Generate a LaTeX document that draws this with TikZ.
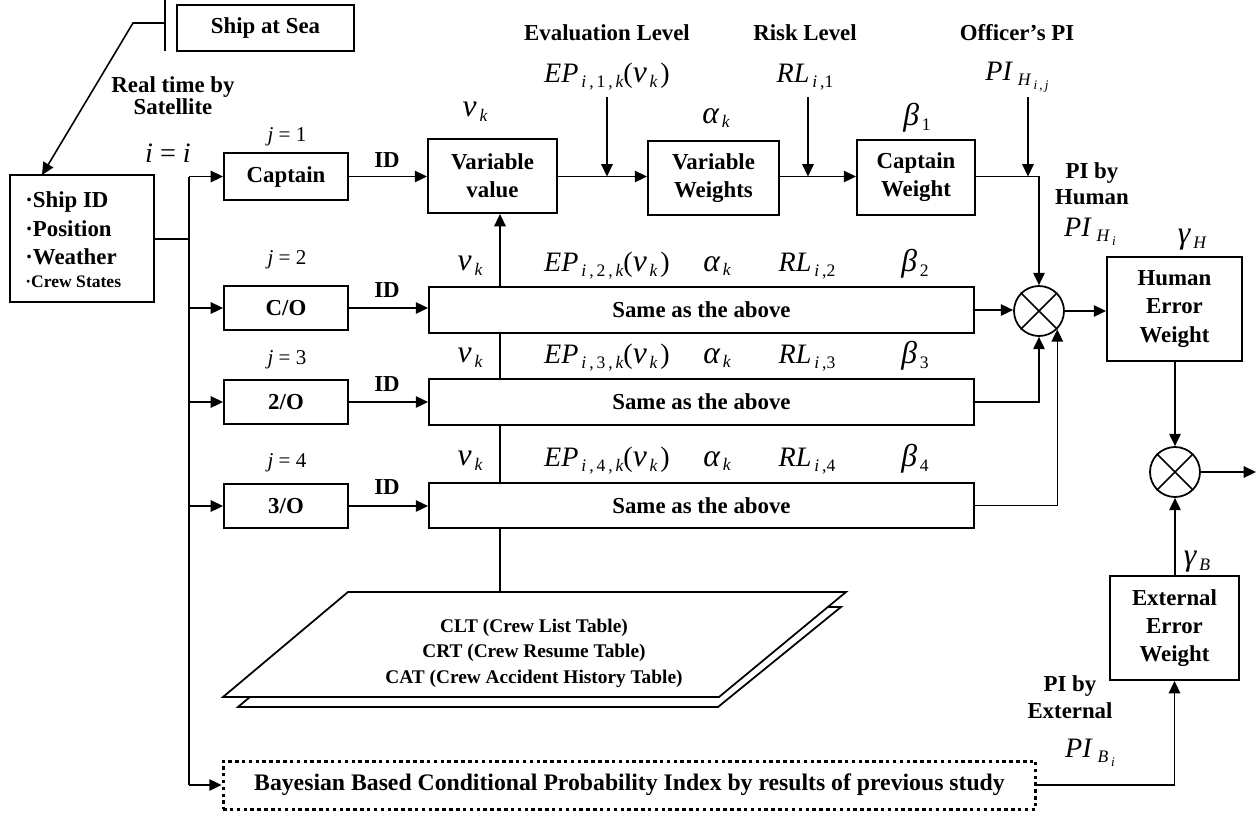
\documentclass[tikz,border=0pt]{standalone}
\usepackage{fontspec}
\setmainfont{Liberation Serif}
\usetikzlibrary{arrows.meta,calc}
\newcommand{\mi}[1]{{\fontsize{16}{18}\selectfont\itshape #1}}
\newcommand{\gk}[1]{{\fontsize{18}{20}\selectfont\itshape #1}}
\newcommand{\sbx}[1]{\raisebox{-0.6ex}{\fontsize{10}{11}\selectfont #1}}
\newcommand{\ssbx}[1]{\raisebox{-0.5ex}{\fontsize{7.5}{8}\selectfont #1}}
\newcommand{\EPlab}[1]{\mi{EP}\,\sbx{\itshape i\upshape\,,\,#1\,,\,\itshape k}\mi{\upshape(}\gk{ν}\,\sbx{\itshape k}\,\mi{\upshape)}}
\newcommand{\RLlab}[1]{\mi{RL}\,\sbx{\itshape i\upshape\,,#1}}
\newcommand{\vk}{\gk{ν}\,\sbx{\itshape k}}
\newcommand{\ak}{\gk{α}\,\sbx{\itshape k}}
\newcommand{\bt}[1]{\gk{β}\,\sbx{#1}}
\begin{document}
\begin{tikzpicture}[x=0.02cm,y=-0.02cm,
  box/.style={draw, line width=1.1pt, fill=white, align=center, inner sep=0pt,
    font=\bfseries\fontsize{13}{16}\selectfont},
  lbl/.style={align=center, inner sep=0pt, font=\bfseries\fontsize{13}{16}\selectfont},
  mth/.style={inner sep=0pt},
  ln/.style={line width=0.9pt},
  conn/.style={line width=0.9pt, -{Triangle[length=7pt,width=6.5pt]}},
  jl/.style={inner sep=0pt, font=\fontsize{12}{14}\selectfont},
  xcirc/.style={draw, circle, line width=1pt, minimum size=1cm, inner sep=0pt, fill=white}
]
\useasboundingbox (0,0) rectangle (1259,816);

% ---- ship at sea and satellite link
\node[box, minimum width=3.54cm, minimum height=0.92cm] (ship) at (265.5,28) {Ship at Sea};
\draw[ln] (165,0) -- (165,51);
\coordinate (tk) at (165,23);
\coordinate (bend) at (133,23);
\coordinate (infotop) at (42,175);
\node[lbl, font=\bfseries\fontsize{13}{12.5}\selectfont] (rt) at (173,96) {Real time by\\Satellite};

% ---- info box
\node[box, minimum width=2.88cm, minimum height=2.54cm] (info) at (82,238.5) {};
\node[lbl, anchor=base west] (l1) at (25,207) {·Ship ID};
\node[lbl, anchor=base west] (l2) at (25,236) {·Position};
\node[lbl, anchor=base west] (l3) at (25,264) {·Weather};
\node[lbl, anchor=base west, font=\bfseries\fontsize{10}{12}\selectfont] (l4) at (25,287) {·Crew States};
\draw[conn] (tk) -- (bend) -- (infotop);

% ---- crew boxes
\coordinate (bus) at (189,239);
\node[mth] (ieq) at (168,153) {\mi{i \upshape= \itshape i}};
\node[box, minimum width=2.48cm, minimum height=0.94cm] (cap) at (286,176.5) {Captain};
\node[box, minimum width=2.48cm, minimum height=0.88cm] (co) at (286,308) {C/O};
\node[box, minimum width=2.48cm, minimum height=0.88cm] (so) at (286,402) {2/O};
\node[box, minimum width=2.48cm, minimum height=0.88cm] (to) at (286,506) {3/O};
\node[jl] (j1) at (287,137) {\itshape j \upshape= 1};
\node[jl] (j2) at (287,260) {\itshape j \upshape= 2};
\node[jl] (j3) at (287,360) {\itshape j \upshape= 3};
\node[jl] (j4) at (287,463) {\itshape j \upshape= 4};

% ---- main chain
\node[box, minimum width=2.58cm, minimum height=1.48cm] (vv) at (492.5,176) {Variable\\value};
\node[box, minimum width=2.62cm, minimum height=1.48cm] (vw) at (713.5,178) {Variable\\Weights};
\node[box, minimum width=2.36cm, minimum height=1.5cm] (cw) at (916,177.5) {Captain\\Weight};

\node[lbl] (evl) at (607,33) {Evaluation Level};
\node[lbl] (rkl) at (805,33) {Risk Level};
\node[lbl] (opi) at (1017,33) {Officer’s PI};
\node[mth] (ep1) at (607,77) {\EPlab{1}};
\node[mth] (rl1) at (805,77) {\RLlab{1}};
\node[mth] (pih) at (1017,77) {\mi{PI}\,\,\sbx{\itshape H\,\ssbx{i\upshape\,,\,\itshape j}}};
\coordinate (aep) at (607,97);
\coordinate (arl) at (808,97);
\coordinate (api) at (1028,97);
\node[mth] (vk1) at (475,112) {\vk};
\node[mth] (ak1) at (716,118) {\ak};
\node[mth] (b1) at (917,118) {\bt{1}};

% ---- database and vertical feed (drawn before the row boxes)
\coordinate (dbtop) at (500,592);
\draw[conn] (dbtop) -- (dbtop |- vv.south);

% ---- rows
\node[box, minimum width=10.9cm, minimum height=0.92cm] (s2) at (701.5,310) {Same as the above};
\node[box, minimum width=10.9cm, minimum height=0.92cm] (s3) at (701.5,402) {Same as the above};
\node[box, minimum width=10.9cm, minimum height=0.9cm] (s4) at (701.5,505.5) {Same as the above};

\node[mth] (vk2) at (470,266) {\vk};
\node[mth] (ep2) at (607,266) {\EPlab{2}};
\node[mth] (ak2) at (717,266) {\ak};
\node[mth] (rl2) at (807,266) {\RLlab{2}};
\node[mth] (b2) at (915,264) {\bt{2}};
\node[mth] (vk3) at (470,358) {\vk};
\node[mth] (ep3) at (607,358) {\EPlab{3}};
\node[mth] (ak3) at (717,358) {\ak};
\node[mth] (rl3) at (807,358) {\RLlab{3}};
\node[mth] (b3) at (915,356) {\bt{3}};
\node[mth] (vk4) at (470,461) {\vk};
\node[mth] (ep4) at (607,461) {\EPlab{4}};
\node[mth] (ak4) at (717,461) {\ak};
\node[mth] (rl4) at (807,461) {\RLlab{4}};
\node[mth] (b4) at (915,459) {\bt{4}};

\node[lbl] (id1) at (387,160) {ID};
\node[lbl] (id2) at (387,290) {ID};
\node[lbl] (id3) at (387,384) {ID};
\node[lbl] (id4) at (387,487) {ID};

% ---- database
\draw[line width=1pt, fill=white] (238,707) -- (718,707) -- (841,607) -- (357,607) -- cycle;
\draw[line width=1pt, fill=white] (223,697) -- (719,697) -- (846,592) -- (348,592) -- cycle;
\node[align=center, inner sep=0pt, font=\bfseries\fontsize{11}{14.5}\selectfont] (db) at (534,653)
  {CLT (Crew List Table)\\CRT (Crew Resume Table)\\CAT (Crew Accident History Table)};

% ---- bayesian
\node[draw, line width=1.7pt, dash pattern=on 2pt off 1.9pt, minimum width=16.26cm, minimum height=0.96cm, lbl,
  font=\bfseries\fontsize{13.5}{16}\selectfont] (bay) at (629.5,785)
  {Bayesian Based Conditional Probability Index by results of previous study};

% ---- right side
\node[xcirc] (c1) at (1039,311) {};
\draw[ln] (c1.north west) -- (c1.south east) (c1.north east) -- (c1.south west);
\node[xcirc] (c2) at (1175,472) {};
\draw[ln] (c2.north west) -- (c2.south east) (c2.north east) -- (c2.south west);
\node[box, minimum width=2.7cm, minimum height=2.08cm] (hew) at (1174.5,309) {Human\\Error\\Weight};
\node[box, minimum width=2.58cm, minimum height=2.08cm] (eew) at (1174.5,628) {External\\Error\\Weight};
\node[lbl, font=\bfseries\fontsize{13}{15}\selectfont] (pbh) at (1092,184) {PI by\\Human};
\node[mth] (pihi) at (1090,232) {\mi{PI}\,\,\sbx{\itshape H\,\ssbx{i}}};
\node[mth] (gh) at (1192,240) {\gk{γ}\,\sbx{\itshape H}};
\node[lbl, font=\bfseries\fontsize{13}{15}\selectfont] (pbe) at (1070,697) {PI by\\External};
\node[mth] (pibi) at (1090,753) {\mi{PI}\,\,\sbx{\itshape B\,\ssbx{i}}};
\node[mth] (gb) at (1197,562) {\gk{γ}\,\sbx{\itshape B}};
\coordinate (out) at (1256,472);

% ---- connectors
\draw[ln] (info.east |- bus) -- (bus);
\draw[ln] (bus |- cap.west) -- (bus |- bay.west);
\draw[conn] (bus |- cap.west) -- (cap.west);
\draw[conn] (bus |- co.west) -- (co.west);
\draw[conn] (bus |- so.west) -- (so.west);
\draw[conn] (bus |- to.west) -- (to.west);
\draw[conn] (bus |- bay.west) -- (bay.west);
\draw[conn] (cap.east) -- (cap.east -| vv.west);
\draw[conn] (co.east) -- (co.east -| s2.west);
\draw[conn] (so.east) -- (so.east -| s3.west);
\draw[conn] (to.east) -- (to.east -| s4.west);
\draw[conn] (vv.east |- cap.east) -- (cap.east -| vw.west);
\draw[conn] (vw.east |- cap.east) -- (cap.east -| cw.west);
\draw[conn] (aep) -- (aep |- cap.east);
\draw[conn] (arl) -- (arl |- cap.east);
\draw[conn] (api) -- (api |- cap.east);
\draw[conn] (cw.east |- cap.east) -- (c1.north |- cap.east) -- (c1.north);
\draw[conn] (s2.east) -- (s2.east -| c1.west);
\draw[conn] (s3.east) -- (s3.east -| c1.south) -- (c1.south);
\draw[conn] (s4.east) -- (s4.east -| c1.-45) -- (c1.-45);
\draw[conn] (c1.east) -- (c1.east -| hew.west);
\draw[conn] (hew.south -| c2.north) -- (c2.north);
\draw[conn] (eew.north -| c2.south) -- (c2.south);
\draw[conn] (c2.east) -- (out);
\draw[conn] (bay.east) -- (bay.east -| eew.south) -- (eew.south);
\end{tikzpicture}
\end{document}
